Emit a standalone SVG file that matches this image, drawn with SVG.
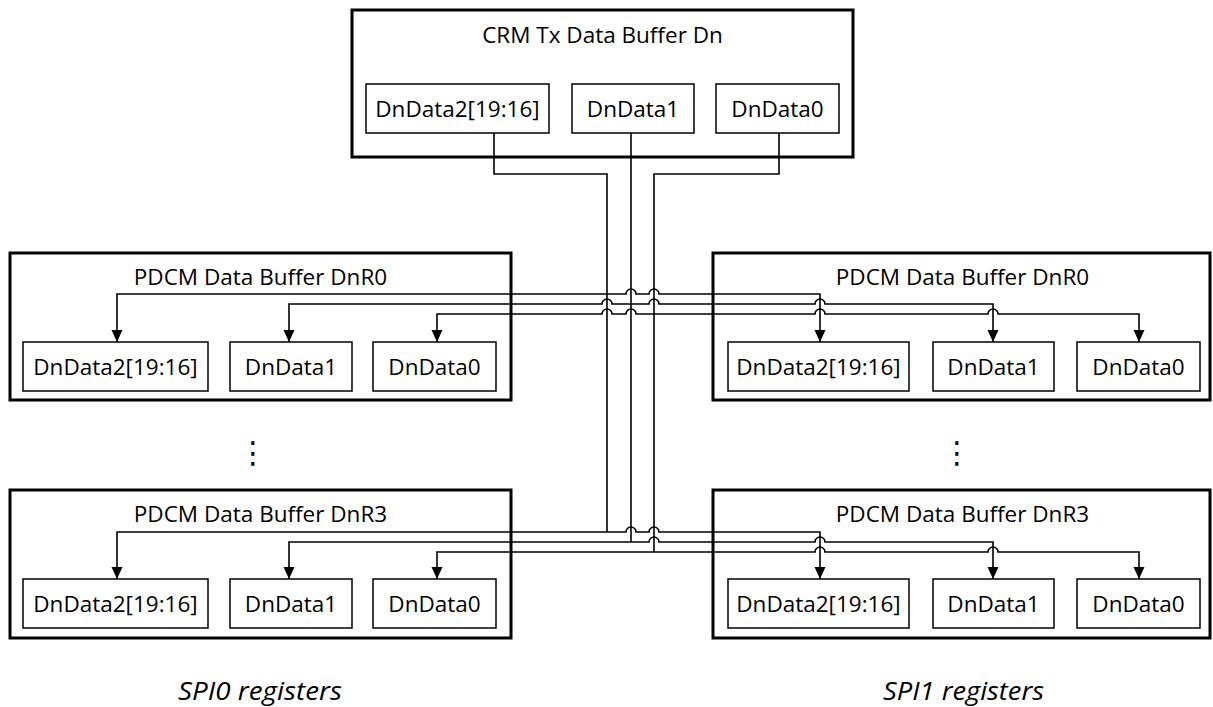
<svg xmlns="http://www.w3.org/2000/svg" width="1213" height="707" viewBox="0 0 1213 707">
<style>
.outer{fill:#fff;stroke:#000;stroke-width:3}
.inner{fill:#fff;stroke:#000;stroke-width:1.5}
.t{font-family:"Open Sans","Noto Sans","Liberation Sans",sans-serif;font-size:22.5px;fill:#000;text-anchor:middle}
.it{font-style:italic;font-size:25px}
.c{fill:none;stroke:#000;stroke-width:1.6}
.a{marker-end:url(#arr)}
.dots{font-family:"DejaVu Sans",sans-serif;font-size:30px;fill:#000;text-anchor:middle}
</style>
<defs>
<marker id="arr" viewBox="0 0 12 11" refX="12" refY="5.5" markerWidth="12" markerHeight="12" markerUnits="userSpaceOnUse" orient="auto">
<path d="M0,0 L12,5.5 L0,11 z" fill="#000"/>
</marker>
</defs>
<rect width="1213" height="707" fill="#fff"/>

<g id="crm">
<rect class="outer" x="352" y="10" width="501" height="147"/>
<text class="t" x="602.5" y="43">CRM Tx Data Buffer Dn</text>
<g id="crm-d2"><rect class="inner" x="366" y="84" width="183" height="49"/><text class="t" x="457.5" y="116.5">DnData2[19:16]</text></g>
<g id="crm-d1"><rect class="inner" x="572" y="84" width="122" height="49"/><text class="t" x="633" y="116.5">DnData1</text></g>
<g id="crm-d0"><rect class="inner" x="716" y="84" width="123" height="49"/><text class="t" x="777.5" y="116.5">DnData0</text></g>
</g>

<g id="spi0-r0">
<rect class="outer" x="10" y="253" width="501" height="147"/>
<text class="t" x="260.5" y="285">PDCM Data Buffer DnR0</text>
<g id="spi0-r0-d2"><rect class="inner" x="23" y="342" width="185" height="49"/><text class="t" x="115.5" y="374.5">DnData2[19:16]</text></g>
<g id="spi0-r0-d1"><rect class="inner" x="230" y="342" width="122" height="49"/><text class="t" x="291" y="374.5">DnData1</text></g>
<g id="spi0-r0-d0"><rect class="inner" x="373" y="342" width="123" height="49"/><text class="t" x="434.5" y="374.5">DnData0</text></g>
</g>

<g id="spi1-r0">
<rect class="outer" x="713" y="253" width="497" height="147"/>
<text class="t" x="962.5" y="285">PDCM Data Buffer DnR0</text>
<g id="spi1-r0-d2"><rect class="inner" x="728" y="342" width="181" height="49"/><text class="t" x="818.5" y="374.5">DnData2[19:16]</text></g>
<g id="spi1-r0-d1"><rect class="inner" x="933" y="342" width="121" height="49"/><text class="t" x="993.5" y="374.5">DnData1</text></g>
<g id="spi1-r0-d0"><rect class="inner" x="1077" y="342" width="123" height="49"/><text class="t" x="1138.5" y="374.5">DnData0</text></g>
</g>

<g id="spi0-r3">
<rect class="outer" x="10" y="490" width="501" height="148"/>
<text class="t" x="260.5" y="522">PDCM Data Buffer DnR3</text>
<g id="spi0-r3-d2"><rect class="inner" x="23" y="579" width="185" height="49"/><text class="t" x="115.5" y="611.5">DnData2[19:16]</text></g>
<g id="spi0-r3-d1"><rect class="inner" x="230" y="579" width="122" height="49"/><text class="t" x="291" y="611.5">DnData1</text></g>
<g id="spi0-r3-d0"><rect class="inner" x="373" y="579" width="123" height="49"/><text class="t" x="434.5" y="611.5">DnData0</text></g>
</g>

<g id="spi1-r3">
<rect class="outer" x="713" y="490" width="497" height="148"/>
<text class="t" x="962.5" y="522">PDCM Data Buffer DnR3</text>
<g id="spi1-r3-d2"><rect class="inner" x="728" y="579" width="181" height="49"/><text class="t" x="818.5" y="611.5">DnData2[19:16]</text></g>
<g id="spi1-r3-d1"><rect class="inner" x="933" y="579" width="121" height="49"/><text class="t" x="993.5" y="611.5">DnData1</text></g>
<g id="spi1-r3-d0"><rect class="inner" x="1077" y="579" width="123" height="49"/><text class="t" x="1138.5" y="611.5">DnData0</text></g>
</g>

<g id="connectors">
<path class="c" d="M494,133 V174 H607 V532"/>
<path class="c" d="M631,133 V542"/>
<path class="c" d="M779,133 V174 H654 V552"/>

<path class="c a" d="M607,294 H117 V342"/>
<path class="c a" d="M607,294 H626 a5,5 0 0 1 10,0 H649 a5,5 0 0 1 10,0 H820 V342"/>
<path class="c a" d="M631,304 H612 a5,5 0 0 0 -10,0 H289 V342"/>
<path class="c a" d="M631,304 H649 a5,5 0 0 1 10,0 H815 a5,5 0 0 1 10,0 H993 V342"/>
<path class="c a" d="M654,314 H636 a5,5 0 0 0 -10,0 H612 a5,5 0 0 0 -10,0 H437 V342"/>
<path class="c a" d="M654,314 H815 a5,5 0 0 1 10,0 H988 a5,5 0 0 1 10,0 H1139 V342"/>

<path class="c a" d="M607,532 H117 V579"/>
<path class="c a" d="M607,532 H626 a5,5 0 0 1 10,0 H649 a5,5 0 0 1 10,0 H820 V579"/>
<path class="c a" d="M631,542 H289 V579"/>
<path class="c a" d="M631,542 H649 a5,5 0 0 1 10,0 H815 a5,5 0 0 1 10,0 H993 V579"/>
<path class="c a" d="M654,552 H437 V579"/>
<path class="c a" d="M654,552 H815 a5,5 0 0 1 10,0 H988 a5,5 0 0 1 10,0 H1139 V579"/>
</g>

<g id="ellipsis">
<text class="dots" x="253" y="463">⋮</text>
<text class="dots" x="957" y="463">⋮</text>
</g>

<g id="labels">
<text class="t it" x="260" y="700" textLength="164" lengthAdjust="spacingAndGlyphs">SPI0 registers</text>
<text class="t it" x="963.5" y="700" textLength="161" lengthAdjust="spacingAndGlyphs">SPI1 registers</text>
</g>
</svg>
